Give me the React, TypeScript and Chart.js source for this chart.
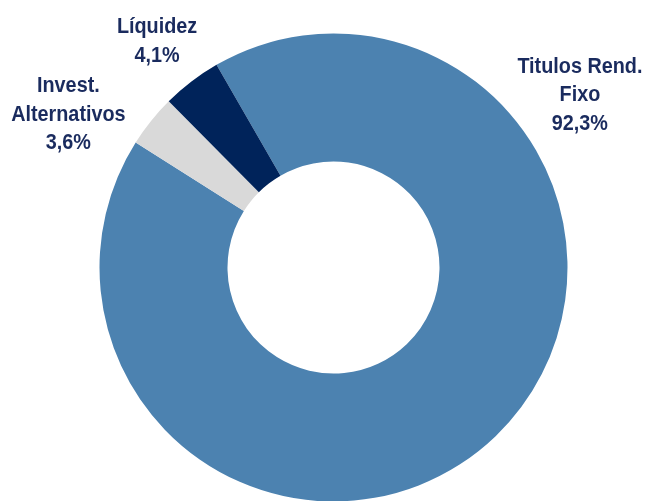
import React, { useEffect, useRef } from "react";
import { Chart, registerables } from "chart.js";

Chart.register(...registerables);

const categories = ["Titulos Rend. Fixo", "Invest. Alternativos", "Líquidez"];
const values = [92.3, 3.6, 4.1];
const valueLabels = ["92,3%", "3,6%", "4,1%"];
const labelLines = [["Titulos Rend.", "Fixo"], ["Invest.", "Alternativos"], ["Líquidez"]];
const colors = ["#4C82B0", "#D9D9D9", "#00235A"];

// label anchor offsets relative to chart center (dx, dy as multiples of outer radius)
const labelAnchors = [
  [1.053, -0.737],
  [-1.133, -0.654],
  [-0.754, -0.966],
];

const labelPlugin = {
  id: "sliceLabels",
  afterDatasetsDraw(chart: any) {
    const meta = chart.getDatasetMeta(0);
    const arc = meta.data[0];
    if (!arc) return;
    const { x, y, outerRadius } = arc.getProps(["x", "y", "outerRadius"], true);
    const ctx = chart.ctx;
    ctx.save();
    ctx.fillStyle = "#1A2B5E";
    ctx.font = "bold 22px 'Liberation Sans', Arial, sans-serif";
    ctx.textAlign = "center";
    ctx.textBaseline = "middle";
    const lh = 28.5;
    const sx = 0.9;
    categories.forEach((_, i) => {
      const lines = [...labelLines[i], valueLabels[i]];
      const cx = x + labelAnchors[i][0] * outerRadius;
      const cy = y + labelAnchors[i][1] * outerRadius;
      const top = cy - ((lines.length - 1) * lh) / 2;
      lines.forEach((t, j) => {
        ctx.save();
        ctx.translate(cx, top + j * lh);
        ctx.scale(sx, 1);
        ctx.fillText(t, 0, 0);
        ctx.restore();
      });
    });
    ctx.restore();
  },
};

export default function App() {
  const ref = useRef<HTMLCanvasElement>(null);
  useEffect(() => {
    document.body.style.margin = "0";
    const chart = new Chart(ref.current!, {
      type: "doughnut",
      data: {
        labels: categories,
        datasets: [
          {
            data: values,
            backgroundColor: colors,
            borderWidth: 0,
            radius: 234,
            cutout: "45.3%",
            rotation: -30,
          } as any,
        ],
      },
      options: {
        animation: false,
        responsive: false,
        events: [],
        layout: { padding: { left: 19, right: 0, top: 0, bottom: 5 } },
        plugins: { legend: { display: false }, tooltip: { enabled: false } },
      },
      plugins: [labelPlugin],
    });
    return () => chart.destroy();
  }, []);
  return (
    <div style={{ width: 648, height: 501, overflow: "hidden", position: "relative" }}>
      <canvas ref={ref} width={648} height={540} style={{ display: "block", width: 648, height: 540 }} />
    </div>
  );
}
